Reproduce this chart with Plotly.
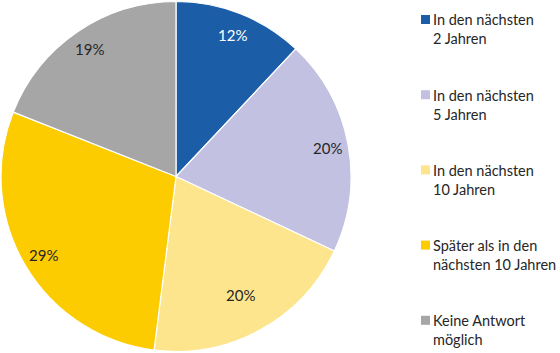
import math
import plotly.graph_objects as go

labels = ["In den nächsten 2 Jahren", "In den nächsten 5 Jahren", "In den nächsten 10 Jahren",
          "Später als in den nächsten 10 Jahren", "Keine Antwort möglich"]
legend_text = ["In den nächsten<br>2 Jahren", "In den nächsten<br>5 Jahren", "In den nächsten<br>10 Jahren",
               "Später als in den<br>nächsten 10 Jahren", "Keine Antwort<br>möglich"]
values = [12, 20, 20, 29, 19]
colors = ["#1b5ea7", "#c3c1e1", "#fde58d", "#fccb00", "#a6a6a6"]
text_colors = ["#ffffff", "#262626", "#262626", "#262626", "#262626"]
label_r = [0.87, 0.88, 0.77, 0.88, 0.88]

W, H = 560, 353
FONT = "Lato"
cx, cy, R = 176, 176.5, 175

fig = go.Figure(go.Pie(
    labels=labels, values=values, sort=False, direction="clockwise", rotation=0,
    marker=dict(colors=colors, line=dict(color="white", width=1.2)),
    textinfo="none", hoverinfo="label+percent",
    domain=dict(x=[(cx - R) / W, (cx + R) / W], y=[0, 1]),
    showlegend=False,
))

annotations = []
total = sum(values)
cum = 0
for v, tc, lr in zip(values, text_colors, label_r):
    mid = (cum + v / 2) / total * 2 * math.pi
    cum += v
    px = cx + lr * R * math.sin(mid)
    py = cy - lr * R * math.cos(mid)
    annotations.append(dict(x=px / W, y=1 - py / H, xref="paper", yref="paper",
                            text=f"{round(v / total * 100)}%", showarrow=False,
                            font=dict(family=FONT, size=15, color=tc),
                            xanchor="center", yanchor="middle"))

shapes = []
leg_top = 19.5
leg_step = 75.2
for i, (t, c) in enumerate(zip(legend_text, colors)):
    yl = leg_top + i * leg_step
    shapes.append(dict(type="rect", xref="paper", yref="paper",
                       x0=421 / W, x1=430 / W, y0=1 - (yl - 4.5) / H, y1=1 - (yl + 4.5) / H,
                       fillcolor=c, line=dict(width=0)))
    annotations.append(dict(x=431 / W, y=1 - (yl + 10) / H, xref="paper", yref="paper",
                            text=t, showarrow=False, align="left",
                            font=dict(family=FONT, size=14.5, color="#262626"),
                            xanchor="left", yanchor="middle"))

fig.update_layout(
    width=W, height=H, margin=dict(l=0, r=0, t=0, b=0),
    paper_bgcolor="white", plot_bgcolor="white",
    annotations=annotations, shapes=shapes,
)
fig.write_html("out.html")
